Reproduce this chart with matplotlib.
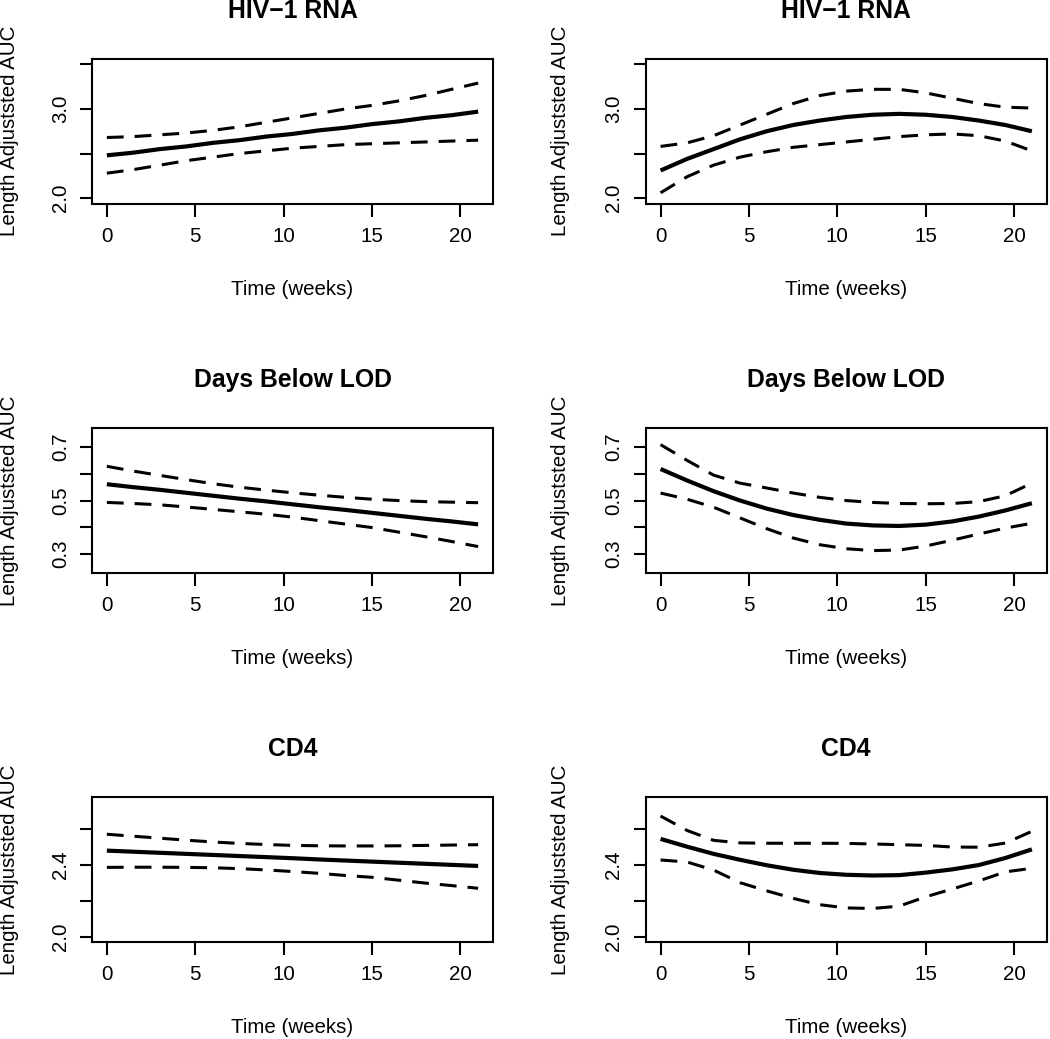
import matplotlib
matplotlib.use("Agg")
import matplotlib.pyplot as plt

plt.rcParams['font.family'] = ['Liberation Sans', 'DejaVu Sans']

weeks = [0, 1.5, 3, 4.5, 6, 7.5, 9, 10.5, 12, 13.5, 15, 16.5, 18, 19.5, 21]

titles = ["HIV\u22121 RNA", "HIV\u22121 RNA", "Days Below LOD", "Days Below LOD", "CD4", "CD4"]

# HIV-1 RNA, linear model
rna_lin_fit = [2.48, 2.51, 2.55, 2.58, 2.62, 2.65, 2.69, 2.72, 2.76, 2.79, 2.83, 2.86, 2.90, 2.93, 2.97]
rna_lin_up = [2.68, 2.69, 2.71, 2.73, 2.76, 2.80, 2.85, 2.90, 2.95, 3.00, 3.04, 3.09, 3.15, 3.22, 3.29]
rna_lin_lo = [2.28, 2.32, 2.37, 2.42, 2.46, 2.50, 2.53, 2.56, 2.58, 2.60, 2.61, 2.62, 2.63, 2.64, 2.65]
# HIV-1 RNA, quadratic model
rna_quad_fit = [2.31, 2.44, 2.55, 2.66, 2.75, 2.82, 2.87, 2.91, 2.935, 2.945, 2.935, 2.91, 2.87, 2.82, 2.75]
rna_quad_up = [2.58, 2.62, 2.70, 2.82, 2.94, 3.06, 3.15, 3.20, 3.22, 3.22, 3.18, 3.12, 3.06, 3.02, 3.01]
rna_quad_lo = [2.06, 2.24, 2.37, 2.46, 2.52, 2.57, 2.60, 2.63, 2.66, 2.69, 2.71, 2.72, 2.70, 2.64, 2.53]

# Days below LOD, linear model
lod_lin_fit = [0.561, 0.550, 0.540, 0.529, 0.518, 0.507, 0.497, 0.486, 0.475, 0.465, 0.454, 0.443, 0.432, 0.422, 0.411]
lod_lin_up = [0.628, 0.610, 0.594, 0.578, 0.563, 0.550, 0.539, 0.529, 0.520, 0.512, 0.505, 0.500, 0.496, 0.494, 0.492]
lod_lin_lo = [0.493, 0.489, 0.484, 0.476, 0.467, 0.458, 0.449, 0.438, 0.425, 0.412, 0.399, 0.382, 0.365, 0.347, 0.328]
# Days below LOD, quadratic model
lod_quad_fit = [0.618, 0.575, 0.535, 0.500, 0.470, 0.446, 0.428, 0.414, 0.407, 0.405, 0.410, 0.422, 0.440, 0.463, 0.490]
lod_quad_up = [0.709, 0.650, 0.595, 0.565, 0.547, 0.528, 0.512, 0.500, 0.493, 0.489, 0.488, 0.489, 0.496, 0.518, 0.565]
lod_quad_lo = [0.528, 0.505, 0.475, 0.435, 0.395, 0.360, 0.335, 0.320, 0.313, 0.315, 0.330, 0.352, 0.375, 0.397, 0.415]

# CD4, linear model
cd4_lin_fit = [2.478, 2.472, 2.466, 2.460, 2.454, 2.448, 2.442, 2.436, 2.429, 2.423, 2.417, 2.411, 2.405, 2.399, 2.393]
cd4_lin_up = [2.569, 2.558, 2.547, 2.536, 2.526, 2.518, 2.512, 2.507, 2.505, 2.504, 2.504, 2.505, 2.507, 2.509, 2.511]
cd4_lin_lo = [2.385, 2.386, 2.386, 2.385, 2.383, 2.378, 2.371, 2.362, 2.352, 2.340, 2.330, 2.314, 2.298, 2.284, 2.269]
# CD4, quadratic model
cd4_quad_fit = [2.543, 2.500, 2.460, 2.427, 2.397, 2.372, 2.354, 2.344, 2.340, 2.342, 2.356, 2.374, 2.398, 2.437, 2.485]
cd4_quad_up = [2.670, 2.590, 2.535, 2.521, 2.519, 2.519, 2.519, 2.518, 2.515, 2.511, 2.507, 2.498, 2.497, 2.520, 2.585]
cd4_quad_lo = [2.426, 2.415, 2.370, 2.300, 2.255, 2.213, 2.178, 2.160, 2.157, 2.170, 2.222, 2.265, 2.310, 2.360, 2.380]

x_ticks = [0, 5, 10, 15, 20]
rna_yticks = [2.0, 2.5, 3.0, 3.5]
rna_ylabels = ["2.0", "", "3.0", ""]
lod_yticks = [0.3, 0.4, 0.5, 0.6, 0.7]
lod_ylabels = ["0.3", "", "0.5", "", "0.7"]
cd4_yticks = [2.0, 2.2, 2.4, 2.6]
cd4_ylabels = ["2.0", "", "2.4", ""]

panels = [
    (rna_lin_fit, rna_lin_up, rna_lin_lo, (1.94, 3.56), rna_yticks, rna_ylabels),
    (rna_quad_fit, rna_quad_up, rna_quad_lo, (1.94, 3.56), rna_yticks, rna_ylabels),
    (lod_lin_fit, lod_lin_up, lod_lin_lo, (0.23, 0.77), lod_yticks, lod_ylabels),
    (lod_quad_fit, lod_quad_up, lod_quad_lo, (0.23, 0.77), lod_yticks, lod_ylabels),
    (cd4_lin_fit, cd4_lin_up, cd4_lin_lo, (1.972, 2.774), cd4_yticks, cd4_ylabels),
    (cd4_quad_fit, cd4_quad_up, cd4_quad_lo, (1.972, 2.774), cd4_yticks, cd4_ylabels),
]

W, H = 1050, 1039
fig = plt.figure(figsize=(W / 100, H / 100), dpi=100)

col_left = [92, 645.7]
row_top = [59, 428.3, 797.3]
box_w, box_h = 401, 144.5
fs = 14.8

for i, (fit, up, lo, ylim, yt, yl) in enumerate(panels):
    r, c = divmod(i, 2)
    ax = fig.add_axes([col_left[c] / W, (H - row_top[r] - box_h) / H, box_w / W, box_h / H])
    ax.plot(weeks, fit, color='black', lw=3.0, solid_capstyle='butt')
    ax.plot(weeks, up, color='black', lw=2.2, linestyle=(0, (5.5, 3.6)))
    ax.plot(weeks, lo, color='black', lw=2.2, linestyle=(0, (5.5, 3.6)))
    ax.set_xlim(-0.84, 21.84)
    ax.set_ylim(*ylim)
    ax.set_xticks(x_ticks)
    ax.set_xticklabels([str(t) for t in x_ticks])
    ax.set_yticks(yt)
    ax.set_yticklabels(yl, rotation=90, va='center')
    for s in ax.spines.values():
        s.set_linewidth(1.5)
    ax.tick_params(direction='out', length=9, width=1.5, labelsize=fs, pad=8)
    ax.tick_params(axis='y', pad=7)
    ax.set_xlabel("Time (weeks)", fontsize=fs)
    ax.xaxis.set_label_coords(0.5, -0.595)
    ax.xaxis.label.set_verticalalignment('center')
    ax.set_ylabel("Length Adjuststed AUC", fontsize=fs)
    ax.yaxis.set_label_coords(-0.206 if c == 0 else -0.212, 0.5)
    ax.yaxis.label.set_verticalalignment('center')
    ax.text(0.5, 1 + 41.5 / box_h, titles[i], transform=ax.transAxes,
            ha='center', va='baseline', fontsize=17.8, fontweight='bold')

fig.savefig("out.png", dpi=100)
